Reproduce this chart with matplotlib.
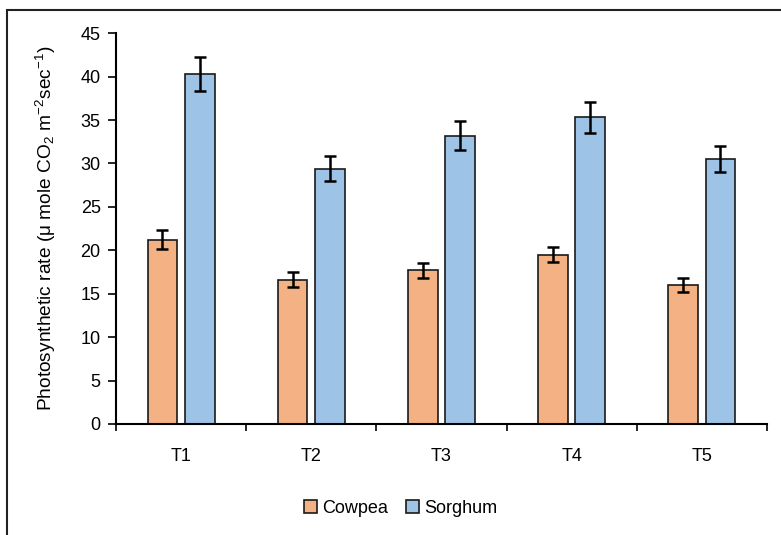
import matplotlib
matplotlib.use("Agg")
import matplotlib.pyplot as plt
import numpy as np
from matplotlib.patches import Rectangle

plt.rcParams['font.family'] = ['Liberation Sans', 'DejaVu Sans']
plt.rcParams['mathtext.fontset'] = 'custom'
plt.rcParams['mathtext.rm'] = 'Liberation Sans'

treatments = ['T1', 'T2', 'T3', 'T4', 'T5']
cowpea = [21.2, 16.6, 17.7, 19.5, 16.0]
cowpea_err = [1.1, 0.85, 0.85, 0.9, 0.85]
sorghum = [40.3, 29.4, 33.2, 35.3, 30.5]
sorghum_err = [2.0, 1.45, 1.65, 1.75, 1.5]

fig = plt.figure(figsize=(7.81, 5.35), dpi=100)
ax = fig.add_axes([0.1485, 0.2075, 0.8335, 0.7305])

x = np.arange(len(treatments))
w = 0.228
off = 0.143
ekw = dict(elinewidth=1.8, capthick=1.8, ecolor='black')
ax.bar(x - off, cowpea, w, color='#F4B183', edgecolor='#1a1a1a', linewidth=1.2,
       yerr=cowpea_err, capsize=4, error_kw=ekw, label='Cowpea')
ax.bar(x + off, sorghum, w, color='#9DC3E6', edgecolor='#1a1a1a', linewidth=1.2,
       yerr=sorghum_err, capsize=4, error_kw=ekw, label='Sorghum')

ax.set_xlim(-0.5, len(treatments) - 0.5)
ax.set_ylim(0, 45)
ax.set_yticks(np.arange(0, 46, 5))
ax.set_xticks(x)
ax.set_xticklabels(treatments)
ax.set_xticks(np.arange(-0.5, len(treatments)), minor=True)
ax.tick_params(axis='x', which='major', length=0, pad=17, labelsize=13)
ax.tick_params(axis='x', which='minor', length=5, width=1.2, direction='out')
ax.tick_params(axis='y', length=6, width=1.2, labelsize=13, pad=5)
for s in ['top', 'right']:
    ax.spines[s].set_visible(False)
for s in ['left', 'bottom']:
    ax.spines[s].set_linewidth(1.5)

ax.set_ylabel(r'Photosynthetic rate ($\mathregular{\mu}$ mole CO$\mathregular{_2}$ m$\mathregular{^{-2}}$sec$\mathregular{^{-1}}$)',
              fontsize=13.8, labelpad=16)

fig.legend(loc='center', bbox_to_anchor=(0.513, 0.05), ncol=2, frameon=False,
           fontsize=13, handlelength=0.7, handleheight=0.7, handletextpad=0.3,
           columnspacing=1.0)

# chart border (only top and left edges fall inside the image)
fig.patches.append(Rectangle((7 / 781, -0.2), 1.5, 1.2 - 10 / 535, transform=fig.transFigure,
                             fill=False, edgecolor='#222222', linewidth=1.5))

fig.savefig('out.png', dpi=100)
